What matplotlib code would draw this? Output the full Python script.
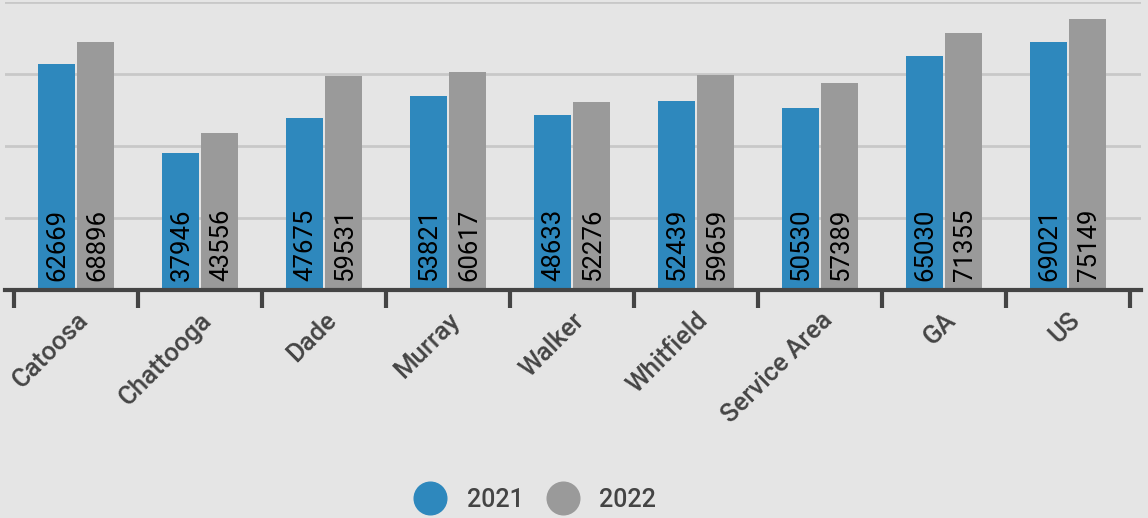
import matplotlib
matplotlib.use("Agg")
import matplotlib.pyplot as plt
from matplotlib.lines import Line2D
import numpy as np

plt.rcParams['font.family'] = ['Roboto', 'DejaVu Sans']

categories = ["Catoosa", "Chattooga", "Dade", "Murray", "Walker", "Whitfield",
              "Service Area", "GA", "US"]
values_2021 = [62669, 37946, 47675, 53821, 48633, 52439, 50530, 65030, 69021]
values_2022 = [68896, 43556, 59531, 60617, 52276, 59659, 57389, 71355, 75149]
series_names = ["2021", "2022"]

BLUE = "#2e88bd"
GRAY = "#9a9a9a"
BG = "#e5e5e5"
DARK = "#444444"

W, H = 1148, 518
fig = plt.figure(figsize=(W / 100, H / 100), dpi=100)
fig.patch.set_facecolor(BG)

ax_left, ax_right = 5, 1141
ax_top, ax_bottom = 2, 290
ax = fig.add_axes([ax_left / W, (H - ax_bottom) / H,
                   (ax_right - ax_left) / W, (ax_bottom - ax_top) / H])
ax.set_facecolor(BG)

x = np.arange(len(categories))
bw = 0.298
off = 0.161
b1 = ax.bar(x - off, values_2021, bw, color=BLUE, zorder=3)
b2 = ax.bar(x + off, values_2022, bw, color=GRAY, zorder=3)

for bars in (b1, b2):
    for rect in bars:
        v = rect.get_height()
        ax.text(rect.get_x() + rect.get_width() / 2 + 0.01, 2600, f"{v}",
                rotation=90, ha="center", va="bottom", fontsize=18.5,
                color="black", zorder=4)

ax.set_xlim(-0.5 - 9 / 124, 8.5 + 11 / 124)
ax.set_ylim(0, 80000)
ax.set_yticks([20000, 40000, 60000, 80000])
ax.yaxis.grid(True, color="#c8c8c8", linewidth=2, zorder=0)
ax.tick_params(axis="y", length=0, labelleft=False)

ax.set_xticks(x)
ax.set_xticklabels(categories, rotation=45, ha="right", rotation_mode="anchor",
                   fontsize=18.5, fontweight="medium", color=DARK)
ax.set_xticks(np.arange(len(categories) + 1) - 0.5, minor=True)
ax.tick_params(axis="x", which="major", length=0, pad=13)
ax.tick_params(axis="x", which="minor", length=13, width=3, color=DARK)

for s in ["top", "right", "left"]:
    ax.spines[s].set_visible(False)
ax.spines["bottom"].set_color(DARK)
ax.spines["bottom"].set_linewidth(3)
ax.spines["bottom"].set_zorder(5)

handles = [Line2D([], [], linestyle="none", marker="o", markersize=23.5,
                  markerfacecolor=c, markeredgecolor=c) for c in (BLUE, GRAY)]
fig.legend(handles, series_names, loc="center left",
           bbox_to_anchor=(414 / W, (H - 500) / H), ncol=2, frameon=False,
           prop={"size": 18, "weight": "medium"}, labelcolor=DARK,
           handlelength=1.3, handletextpad=0.8,
           columnspacing=0.95, borderpad=0, borderaxespad=0)

fig.savefig("out.png", dpi=100, facecolor=BG)
